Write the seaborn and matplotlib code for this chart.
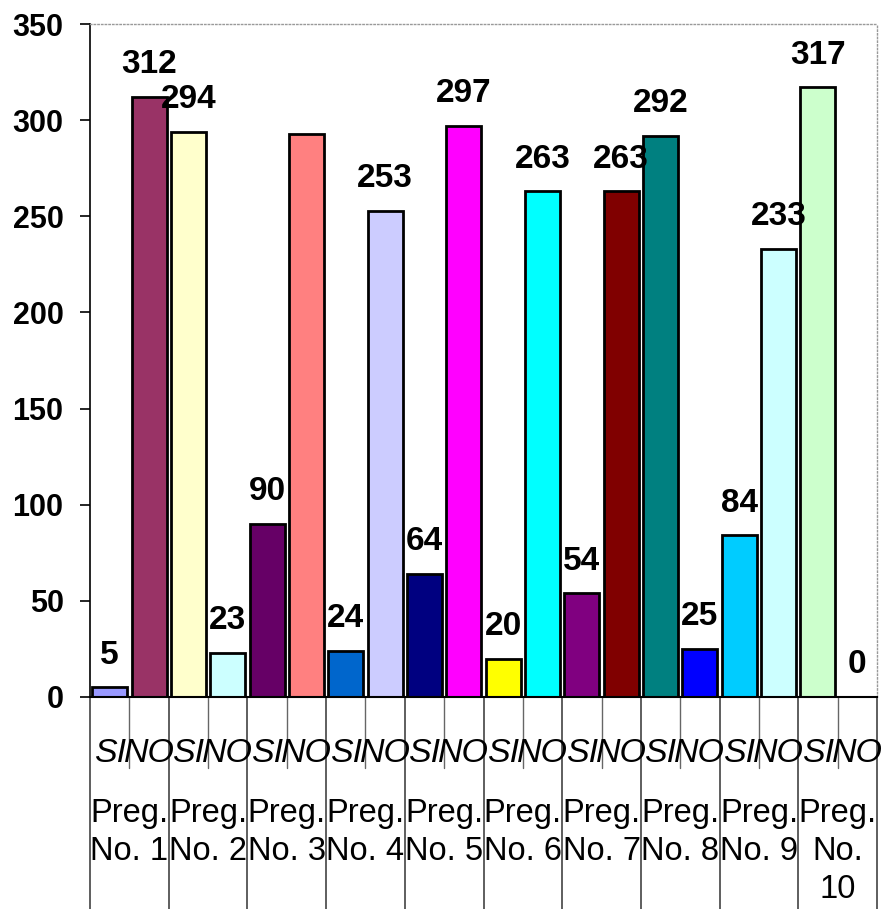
import matplotlib
matplotlib.use("Agg")
import matplotlib.pyplot as plt
import seaborn as sns
import pandas as pd

# Answers per pregnancy question: first the "SI" count, then the "NO" count
groups = ["Preg.\nNo. 1", "Preg.\nNo. 2", "Preg.\nNo. 3", "Preg.\nNo. 4", "Preg.\nNo. 5",
          "Preg.\nNo. 6", "Preg.\nNo. 7", "Preg.\nNo. 8", "Preg.\nNo. 9", "Preg.\nNo.\n10"]
answers = ["SI", "NO"]
si_counts = [5, 294, 90, 24, 64, 20, 54, 292, 84, 317]
no_counts = [312, 23, 293, 253, 297, 263, 263, 25, 233, 0]
bar_colors = ["#9999FF", "#993366", "#FFFFCC", "#CCFFFF", "#660066", "#FF8080",
              "#0066CC", "#CCCCFF", "#000080", "#FF00FF", "#FFFF00", "#00FFFF",
              "#800080", "#800000", "#008080", "#0000FF", "#00CCFF", "#CCFFFF",
              "#CCFFCC", "#FFFFFF"]
# The third "NO" bar carries no value label
unlabeled = {5}

rows = []
for g, (s, n) in enumerate(zip(si_counts, no_counts)):
    rows.append({"bar": f"{g}-SI", "count": s})
    rows.append({"bar": f"{g}-NO", "count": n})
df = pd.DataFrame(rows)

sns.set_style("white")
plt.rcParams["font.family"] = ["Liberation Sans", "DejaVu Sans"]
for key in ("text.color", "axes.labelcolor", "xtick.color", "ytick.color"):
    plt.rcParams[key] = "black"

fig = plt.figure(figsize=(8.82, 9.09), dpi=100)
ax_h = 697 - 24
ax = fig.add_axes([90 / 882, 1 - 697 / 909, (877 - 90) / 882, ax_h / 909])

sns.barplot(data=df, x="bar", y="count", hue="bar", palette=bar_colors,
            saturation=1, legend=False, width=0.89, edgecolor="black",
            linewidth=2.0, order=list(df["bar"]), ax=ax)

ax.set_xlim(-0.5, len(df) - 0.5)
ax.set_ylim(0, 350)
ax.set_yticks(range(0, 351, 50))
ax.set_xticks([])
ax.set_xlabel("")
ax.set_ylabel("")
ax.tick_params(axis="y", direction="out", length=7, width=1.2, pad=12,
               labelsize=22, left=True)
for lbl in ax.get_yticklabels():
    lbl.set_fontweight("bold")

ax.spines["left"].set_color("black")
ax.spines["left"].set_linewidth(1.2)
ax.spines["bottom"].set_color("black")
ax.spines["bottom"].set_linewidth(1.5)
for side in ("top", "right"):
    ax.spines[side].set_visible(True)
    ax.spines[side].set_color("#999999")
    ax.spines[side].set_linestyle(":")
    ax.spines[side].set_linewidth(1.0)

# Value labels above bars
for i, val in enumerate(df["count"]):
    if i in unlabeled:
        continue
    ax.annotate(str(val), (i, val), xytext=(0, 17), textcoords="offset points",
                ha="center", va="baseline", fontsize=24, fontweight="bold")


def below(px):
    """Axes-fraction y for a distance in pixels under the x axis."""
    return -px / ax_h


# Category table under the axis
tr = ax.get_xaxis_transform()
n = len(df)
for k in range(n + 1):
    x = k - 0.5
    if k % 2 == 0:
        ax.plot([x, x], [0, below(212)], transform=tr, color="#333333",
                lw=1.1, clip_on=False)
    else:
        ax.plot([x, x], [0, below(71)], transform=tr, color="#666666",
                lw=1.0, clip_on=False)

for i in range(n):
    ax.text(i, below(65), answers[i % 2], transform=tr, ha="center",
            va="baseline", fontsize=24.5, fontstyle="italic")

for g, name in enumerate(groups):
    for j, line in enumerate(name.split("\n")):
        ax.text(2 * g + 0.5, below(125 + 38 * j), line, transform=tr,
                ha="center", va="baseline", fontsize=23.5)

fig.savefig("out.png", dpi=100)
